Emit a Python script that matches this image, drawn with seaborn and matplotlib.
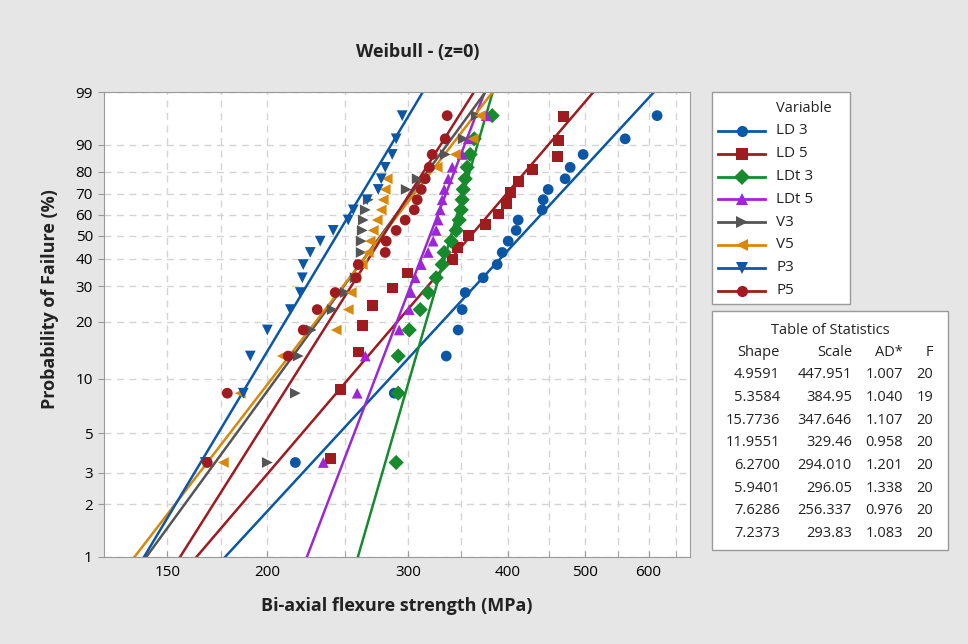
import numpy as np
import pandas as pd
import matplotlib
matplotlib.use("Agg")
import matplotlib.pyplot as plt
import seaborn as sns
from matplotlib.lines import Line2D
from matplotlib.patches import Rectangle
from matplotlib.ticker import FixedLocator, NullFormatter, NullLocator

# Data (MPa, sorted per sample)
variables = ['LD 3', 'LD 5', 'LDt 3', 'LDt 5', 'V3', 'V5', 'P3', 'P5']

ld3 = [216.9, 288.4, 335.0, 346.7, 350.7, 353.8, 372.6, 387.9, 393.6, 400.4,
       409.7, 412.1, 441.6, 442.9, 449.3, 471.8, 478.7, 496.9, 560.8, 614.9]
ld5 = [239.8, 246.9, 260.0, 263.0, 270.7, 286.7, 299.4, 340.8, 345.7, 356.9,
       374.7, 389.1, 398.1, 402.7, 412.1, 429.1, 461.1, 462.4, 469.1]
ldt3 = [290.0, 291.7, 291.7, 301.1, 310.8, 318.0, 325.4, 331.1, 333.0, 339.8,
        344.7, 347.7, 349.7, 350.7, 351.8, 353.8, 355.8, 358.9, 363.1, 382.4]
ldt5 = [235.1, 259.2, 265.3, 292.5, 301.1, 302.8, 306.3, 311.7, 318.0, 322.6,
        325.4, 327.3, 329.2, 331.1, 333.0, 336.9, 340.8, 350.7, 356.9, 375.8]
v3 = [200.1, 216.9, 218.7, 227.1, 241.2, 250.4, 257.7, 261.5, 262.2, 262.2,
      263.0, 263.8, 265.3, 267.6, 298.5, 308.1, 322.6, 334.0, 351.8, 365.2]
v5 = [176.3, 185.1, 208.9, 244.0, 252.6, 254.8, 257.7, 263.0, 267.6, 269.1,
      271.5, 274.6, 277.8, 279.4, 281.0, 282.6, 326.4, 343.8, 362.0, 369.4]
p3 = [167.3, 186.7, 190.5, 200.1, 213.8, 220.0, 221.3, 221.9, 226.4, 233.0,
      241.9, 252.6, 256.3, 266.8, 275.4, 277.8, 281.0, 286.7, 290.0, 295.1]
p5 = [168.3, 178.3, 212.5, 221.9, 231.0, 243.3, 258.5, 260.0, 281.0, 281.8,
      290.0, 297.6, 305.5, 308.1, 311.7, 315.3, 319.0, 321.7, 334.0, 335.9]
samples = [ld3, ld5, ldt3, ldt5, v3, v5, p3, p5]

# Table of Statistics
shape_txt = ['4.9591', '5.3584', '15.7736', '11.9551', '6.2700', '5.9401', '7.6286', '7.2373']
scale_txt = ['447.951', '384.95', '347.646', '329.46', '294.010', '296.05', '256.337', '293.83']
ad_txt = ['1.007', '1.040', '1.107', '0.958', '1.201', '1.338', '0.976', '1.083']
fail_txt = ['20', '19', '20', '20', '20', '20', '20', '20']

x_ticks = [150, 200, 300, 400, 500, 600]
x_minor = [175, 250, 350, 450, 550, 650]
y_ticks = [1, 2, 3, 5, 10, 20, 30, 40, 50, 60, 70, 80, 90, 99]

colors = {'LD 3': '#0b57a6', 'LD 5': '#9e1b1f', 'LDt 3': '#168a2c', 'LDt 5': '#9b28d4',
          'V3': '#555555', 'V5': '#d8890c', 'P3': '#0b57a6', 'P5': '#9e1b1f'}
markers = {'LD 3': 'o', 'LD 5': 's', 'LDt 3': 'D', 'LDt 5': '^',
           'V3': '>', 'V5': '<', 'P3': 'v', 'P5': 'o'}

plt.rcParams['font.family'] = ['Open Sans', 'DejaVu Sans']

# points with median ranks (Benard)
rows = []
for name, vals in zip(variables, samples):
    n = len(vals)
    for i, v in enumerate(vals):
        rows.append((name, v, 100 * (i + 1 - 0.3) / (n + 0.4)))
pts = pd.DataFrame(rows, columns=['Variable', 'strength', 'prob'])

# fitted lines from shape/scale
frows = []
wgrid = np.linspace(-5.5, 2.0, 150)
for name, sh, sc in zip(variables, shape_txt, scale_txt):
    sh, sc = float(sh), float(sc)
    for w in wgrid:
        frows.append((name, sc * np.exp(w / sh), 100 * (1 - np.exp(-np.exp(w)))))
fit = pd.DataFrame(frows, columns=['Variable', 'strength', 'prob'])


def fwd(p):
    p = np.clip(np.asarray(p, dtype=float), 1e-9, 100 - 1e-9) / 100
    return np.log(-np.log(1 - p))


def inv(w):
    return 100 * (1 - np.exp(-np.exp(w)))


W, H = 968, 644
def fx(px): return px / W
def fy(py): return 1 - py / H

fig = plt.figure(figsize=(9.68, 6.44), dpi=100, facecolor='#e6e6e6')
ax = fig.add_axes([fx(104), fy(557), fx(690) - fx(104), fy(92) - fy(557)])
ax.set_facecolor('white')
ax.set_xscale('log')
ax.set_yscale('function', functions=(fwd, inv))

sns.lineplot(data=fit, x='strength', y='prob', hue='Variable', palette=colors,
             estimator=None, sort=False, lw=1.8, legend=False, ax=ax)
sns.scatterplot(data=pts, x='strength', y='prob', hue='Variable', style='Variable',
                palette=colors, markers=markers, s=60, linewidth=0,
                legend=False, ax=ax, zorder=3)

ax.set_xlim(125, 676)
ax.set_ylim(1, 99)
ax.set_xticks(x_ticks)
ax.set_xticklabels([str(t) for t in x_ticks])
ax.xaxis.set_minor_locator(FixedLocator(x_minor))
ax.xaxis.set_minor_formatter(NullFormatter())
ax.set_yticks(y_ticks)
ax.set_yticklabels([str(t) for t in y_ticks])
ax.yaxis.set_minor_locator(NullLocator())
ax.tick_params(axis='x', which='both', direction='in', length=4, color='#9a9a9a',
               labelsize=11, pad=6)
ax.tick_params(axis='y', direction='out', length=4, color='#9a9a9a', labelsize=11, pad=4)
ax.grid(True, which='both', axis='x', ls=(0, (5, 4)), color='#d4d4d4', lw=1)
ax.grid(True, which='major', axis='y', ls=(0, (5, 4)), color='#d4d4d4', lw=1)
ax.set_axisbelow(True)
for s in ax.spines.values():
    s.set_color('#9a9a9a')
ax.set_xlabel('')
ax.set_ylabel('')

fig.text(fx(418), fy(52), 'Weibull - (z=0)', ha='center', va='center',
         fontsize=13, fontweight='bold', color='#222222')
fig.text(fx(397), fy(606), 'Bi-axial flexure strength (MPa)', ha='center', va='center',
         fontsize=13, fontweight='bold', color='#222222')
fig.text(fx(50), fy(299), 'Probability of Failure (%)', ha='center', va='center',
         rotation=90, fontsize=13, fontweight='bold', color='#222222')

# legend box
fig.add_artist(Rectangle((fx(712), fy(304)), fx(850) - fx(712), fy(92) - fy(304),
                         transform=fig.transFigure, facecolor='white',
                         edgecolor='#9a9a9a', lw=1))
fig.text(fx(776), fy(109), 'Variable', ha='left', va='center', fontsize=10.5, color='#222222')
for i, name in enumerate(variables):
    y = fy(131 + 22.8 * i)
    fig.add_artist(Line2D([fx(718), fx(765)], [y, y], transform=fig.transFigure,
                          color=colors[name], lw=2))
    fig.add_artist(Line2D([fx(741.5)], [y], transform=fig.transFigure, marker=markers[name],
                          color=colors[name], markersize=8, markeredgewidth=0, lw=0))
    fig.text(fx(776), y, name, ha='left', va='center', fontsize=11, color='#222222')

# table of statistics
fig.add_artist(Rectangle((fx(712), fy(550)), fx(948) - fx(712), fy(311) - fy(550),
                         transform=fig.transFigure, facecolor='white',
                         edgecolor='#9a9a9a', lw=1))
fig.text(fx(830), fy(330), 'Table of Statistics', ha='center', va='center',
         fontsize=10.5, color='#222222')
col_right = [780, 852, 903, 933]
for x, h in zip(col_right, ['Shape', 'Scale', 'AD*', 'F']):
    fig.text(fx(x), fy(353), h, ha='right', va='center', fontsize=10.5, color='#222222')
for k in range(len(variables)):
    y = fy(375 + 22.6 * k)
    for x, col in zip(col_right, [shape_txt, scale_txt, ad_txt, fail_txt]):
        fig.text(fx(x), y, col[k], ha='right', va='center', fontsize=10.5, color='#222222')

fig.savefig('out.png', dpi=100, facecolor=fig.get_facecolor())
